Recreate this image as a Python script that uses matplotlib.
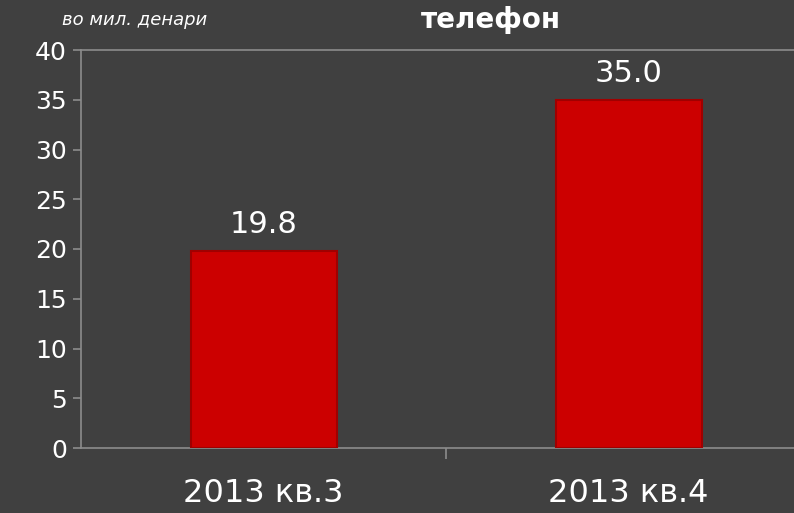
import matplotlib
matplotlib.use("Agg")
import matplotlib.pyplot as plt
import numpy as np

categories = ["2013 кв.3", "2013 кв.4"]
values = [19.8, 35.0]
yticks = [0, 5, 10, 15, 20, 25, 30, 35, 40]

bg = "#404040"
plt.rcParams['font.family'] = ['DejaVu Sans']

fig = plt.figure(figsize=(7.94, 5.13), dpi=100, facecolor=bg)
ax = fig.add_axes([81/794, (513-448)/513, 730/794, (448-50)/513])
ax.set_facecolor(bg)

x = np.arange(len(categories))
ax.bar(x, values, width=0.4, color="#CC0000", edgecolor="#a00000", linewidth=1.5, zorder=3)
for xi, v in zip(x, values):
    ax.text(xi, v + 1.2, f"{v:.1f}", ha="center", va="bottom", color="white", fontsize=22)

ax.set_xlim(-0.5, 1.5)
ax.set_ylim(0, 40)
ax.set_yticks(yticks)
ax.set_yticklabels([str(t) for t in yticks], fontsize=18, color="white")
ax.set_xticks([0.5])
ax.set_xticklabels([""])
ax.tick_params(axis="x", length=8, color="#8c8c8c", width=1.2)
ax.tick_params(axis="y", length=6, color="#8c8c8c", width=1.2, pad=4)
for i, c in enumerate(categories):
    ax.text(i, -3.0, c, ha="center", va="top", color="white", fontsize=23)

for s in ["left", "bottom", "top"]:
    ax.spines[s].set_color("#8c8c8c")
    ax.spines[s].set_linewidth(1.2)
ax.spines["right"].set_visible(False)

fig.text(62/794, 1 - 20/513, "во мил. денари", color="white", fontsize=13, style="italic", va="center", ha="left")
fig.text(491/794, 1 - 20/513, "телефон", color="white", fontsize=20, weight="bold", va="center", ha="center")

fig.savefig("out.png", dpi=100, facecolor=bg)
